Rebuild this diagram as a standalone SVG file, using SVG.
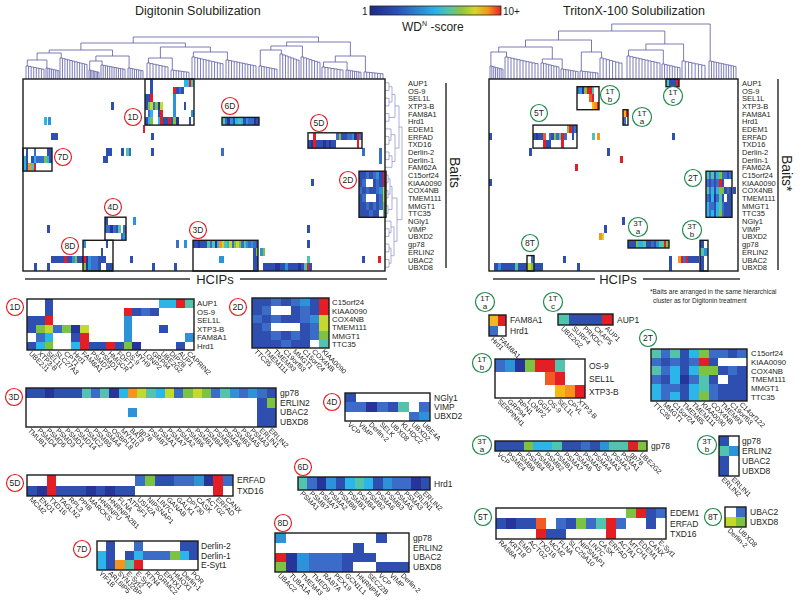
<svg xmlns="http://www.w3.org/2000/svg" xmlns:xlink="http://www.w3.org/1999/xlink" width="800" height="606" viewBox="0 0 800 606">
<style>
text{font-family:"Liberation Sans",Arial,Helvetica,sans-serif;fill:#231f20}
.ti{font-size:12.5px}
.bl{font-size:7.5px}
.rl{font-size:8.5px}
.rs{font-size:7.8px}
.cl{font-size:7px;filter:url(#nolcd)}
.cl text{fill:#222}
.ct{font-size:8.5px;text-anchor:middle}
.c2{font-size:8px;text-anchor:middle}
.b1{fill:#25359a}.b2{fill:#2f4fb0}.b3{fill:#3b6cc8}.lb{fill:#2c93d9}.cy{fill:#2cb5e8}.tl{fill:#52c3ad}.gr{fill:#7ec242}.yg{fill:#c4d92e}.gd{fill:#f5b818}.or{fill:#f7941d}.ro{fill:#f15a24}.rd{fill:#e31e24}
.bx{fill:none;stroke:#1a1a1a;stroke-width:1.4}
.cd circle{fill:#fff;stroke:#e31e24;stroke-width:1.2}
.cg circle{fill:#fff;stroke:#1e8b4c;stroke-width:1.2}
.dg{fill:none;stroke:#5b5ba6;stroke-width:0.8}
.rdg{fill:none;stroke:#8c8cc8;stroke-width:0.7}
.ax{stroke:#333;stroke-width:1.5;fill:none}
</style>
<defs>
<filter id="nolcd" x="-0.1" y="-0.1" width="1.2" height="1.2"><feOffset dx="0" dy="0"/></filter>
<linearGradient id="wd" x1="0" x2="1" y1="0" y2="0">
<stop offset="0" stop-color="#1d2a85"/><stop offset="0.2" stop-color="#2a4db5"/><stop offset="0.4" stop-color="#2b8fd6"/><stop offset="0.5" stop-color="#2ab3e6"/><stop offset="0.6" stop-color="#55c3a8"/><stop offset="0.7" stop-color="#8dc63f"/><stop offset="0.8" stop-color="#d4d62a"/><stop offset="0.9" stop-color="#f7941d"/><stop offset="1" stop-color="#e8202a"/>
</linearGradient>
<path id="st" class="dg" vector-effect="non-scaling-stroke" d="M0 10V0H1V0.4H2V0.8H3V1.2H4V1.6H5V2H6V2.4H7V10M1 0.4V10M2 0.8V10M3 1.2V10M4 1.6V10M5 2V10M6 2.4V10"/>
<path id="st12" class="dg" vector-effect="non-scaling-stroke" d="M0 10V0H1V0.3H2V0.6H3V0.9H4V1.2H5V1.5H6V1.8H7V2.1H8V2.4H9V2.7H10V3H11V10M1 0.3V10M2 0.6V10M3 0.9V10M4 1.2V10M5 1.5V10M6 1.8V10M7 2.1V10M8 2.4V10M9 2.7V10M10 3V10"/>
<g id="m1D" shape-rendering="crispEdges">
<rect x="2" y="0" width="1" height="1" class="b2"/><rect x="15" y="0" width="2" height="1" class="cy"/><rect x="17" y="0" width="1" height="1" class="rd"/><rect x="18" y="0" width="1" height="1" class="tl"/>
<rect x="2" y="1" width="1" height="1" class="b2"/><rect x="11" y="1" width="1" height="1" class="rd"/><rect x="12" y="1" width="1" height="1" class="b2"/><rect x="13" y="1" width="1" height="1" class="b3"/><rect x="14" y="1" width="1" height="1" class="b2"/>
<rect x="0" y="2" width="2" height="1" class="b2"/><rect x="2" y="2" width="1" height="1" class="rd"/><rect x="11" y="2" width="1" height="1" class="lb"/>
<rect x="0" y="3" width="1" height="1" class="b2"/><rect x="1" y="3" width="1" height="1" class="gr"/><rect x="2" y="3" width="1" height="1" class="yg"/><rect x="3" y="3" width="1" height="1" class="b3"/><rect x="4" y="3" width="1" height="1" class="gr"/><rect x="5" y="3" width="1" height="1" class="b1"/><rect x="6" y="3" width="1" height="1" class="yg"/><rect x="11" y="3" width="1" height="1" class="lb"/><rect x="15" y="3" width="1" height="1" class="b2"/>
<rect x="1" y="4" width="1" height="1" class="b3"/><rect x="2" y="4" width="1" height="1" class="cy"/><rect x="5" y="4" width="1" height="1" class="b2"/><rect x="6" y="4" width="1" height="1" class="rd"/><rect x="11" y="4" width="1" height="1" class="lb"/><rect x="18" y="4" width="1" height="1" class="lb"/>
<rect x="0" y="5" width="1" height="1" class="b2"/><rect x="1" y="5" width="1" height="1" class="cy"/><rect x="2" y="5" width="1" height="1" class="gr"/><rect x="5" y="5" width="1" height="1" class="cy"/><rect x="6" y="5" width="1" height="1" class="rd"/><rect x="7" y="5" width="2" height="1" class="b2"/><rect x="9" y="5" width="1" height="1" class="rd"/><rect x="10" y="5" width="1" height="1" class="b2"/><rect x="11" y="5" width="1" height="1" class="gr"/><rect x="12" y="5" width="1" height="1" class="b1"/><rect x="17" y="5" width="1" height="1" class="b2"/>
</g>
<g id="m2D" shape-rendering="crispEdges">
<rect x="0" y="0" width="2" height="1" class="b2"/><rect x="2" y="0" width="1" height="1" class="b3"/><rect x="3" y="0" width="1" height="1" class="b2"/><rect x="4" y="0" width="1" height="1" class="b3"/><rect x="5" y="0" width="1" height="1" class="lb"/><rect x="6" y="0" width="1" height="1" class="b2"/><rect x="7" y="0" width="1" height="1" class="rd"/>
<rect x="0" y="1" width="1" height="1" class="b2"/><rect x="1" y="1" width="1" height="1" class="b3"/><rect x="4" y="1" width="1" height="1" class="b2"/><rect x="5" y="1" width="1" height="1" class="b3"/><rect x="6" y="1" width="1" height="1" class="b2"/><rect x="7" y="1" width="1" height="1" class="rd"/>
<rect x="0" y="2" width="1" height="1" class="b3"/><rect x="1" y="2" width="1" height="1" class="b2"/><rect x="2" y="2" width="1" height="1" class="b3"/><rect x="3" y="2" width="2" height="1" class="b2"/><rect x="5" y="2" width="1" height="1" class="b3"/><rect x="6" y="2" width="1" height="1" class="lb"/><rect x="7" y="2" width="1" height="1" class="yg"/>
<rect x="0" y="3" width="1" height="1" class="b2"/><rect x="1" y="3" width="1" height="1" class="b3"/><rect x="5" y="3" width="1" height="1" class="b2"/><rect x="6" y="3" width="1" height="1" class="b3"/><rect x="7" y="3" width="1" height="1" class="yg"/>
<rect x="0" y="4" width="2" height="1" class="b2"/><rect x="2" y="4" width="1" height="1" class="b3"/><rect x="3" y="4" width="1" height="1" class="b2"/><rect x="4" y="4" width="1" height="1" class="b3"/><rect x="5" y="4" width="1" height="1" class="b2"/><rect x="6" y="4" width="1" height="1" class="b3"/><rect x="7" y="4" width="1" height="1" class="gr"/>
<rect x="0" y="5" width="3" height="1" class="b2"/><rect x="3" y="5" width="1" height="1" class="b3"/><rect x="4" y="5" width="2" height="1" class="b2"/><rect x="7" y="5" width="1" height="1" class="tl"/>
</g>
<g id="m3D" shape-rendering="crispEdges">
<rect x="0" y="0" width="2" height="1" class="b2"/><rect x="2" y="0" width="1" height="1" class="b1"/><rect x="3" y="0" width="3" height="1" class="b2"/><rect x="6" y="0" width="1" height="1" class="tl"/><rect x="7" y="0" width="1" height="1" class="b3"/><rect x="8" y="0" width="1" height="1" class="tl"/><rect x="9" y="0" width="1" height="1" class="b1"/><rect x="10" y="0" width="1" height="1" class="cy"/><rect x="11" y="0" width="1" height="1" class="or"/><rect x="12" y="0" width="1" height="1" class="yg"/><rect x="13" y="0" width="1" height="1" class="tl"/><rect x="14" y="0" width="1" height="1" class="cy"/><rect x="15" y="0" width="1" height="1" class="yg"/><rect x="16" y="0" width="1" height="1" class="b3"/><rect x="17" y="0" width="1" height="1" class="gr"/><rect x="18" y="0" width="1" height="1" class="yg"/><rect x="19" y="0" width="1" height="1" class="gr"/><rect x="20" y="0" width="1" height="1" class="b3"/><rect x="21" y="0" width="1" height="1" class="tl"/><rect x="22" y="0" width="1" height="1" class="lb"/><rect x="23" y="0" width="1" height="1" class="b3"/><rect x="24" y="0" width="1" height="1" class="lb"/><rect x="25" y="0" width="1" height="1" class="b3"/><rect x="26" y="0" width="1" height="1" class="b2"/>
<rect x="25" y="1" width="1" height="1" class="b2"/><rect x="26" y="1" width="1" height="1" class="gr"/>
<rect x="11" y="2" width="1" height="1" class="lb"/><rect x="25" y="2" width="2" height="1" class="b2"/>
<rect x="25" y="3" width="2" height="1" class="b2"/>
</g>
<g id="m4D" shape-rendering="crispEdges">
<rect x="0" y="0" width="1" height="1" class="b2"/>
<rect x="0" y="1" width="2" height="1" class="b3"/><rect x="2" y="1" width="1" height="1" class="b1"/><rect x="3" y="1" width="1" height="1" class="b3"/><rect x="4" y="1" width="1" height="1" class="b2"/><rect x="5" y="1" width="1" height="1" class="tl"/><rect x="7" y="1" width="1" height="1" class="b3"/>
<rect x="6" y="2" width="1" height="1" class="b3"/><rect x="7" y="2" width="1" height="1" class="lb"/>
</g>
<g id="m5D" shape-rendering="crispEdges">
<rect x="2" y="0" width="1" height="1" class="rd"/><rect x="11" y="0" width="1" height="1" class="b3"/><rect x="12" y="0" width="1" height="1" class="gr"/><rect x="13" y="0" width="2" height="1" class="b2"/><rect x="15" y="0" width="2" height="1" class="b3"/><rect x="17" y="0" width="1" height="1" class="lb"/><rect x="18" y="0" width="1" height="1" class="b1"/><rect x="19" y="0" width="1" height="1" class="rd"/><rect x="20" y="0" width="1" height="1" class="b3"/>
<rect x="0" y="1" width="1" height="1" class="b2"/><rect x="1" y="1" width="1" height="1" class="b1"/><rect x="2" y="1" width="1" height="1" class="rd"/><rect x="3" y="1" width="3" height="1" class="b2"/><rect x="6" y="1" width="1" height="1" class="b1"/><rect x="7" y="1" width="1" height="1" class="b2"/><rect x="8" y="1" width="1" height="1" class="b1"/><rect x="9" y="1" width="2" height="1" class="b2"/><rect x="19" y="1" width="1" height="1" class="rd"/>
</g>
<g id="m6D" shape-rendering="crispEdges">
<rect x="0" y="0" width="1" height="1" class="tl"/><rect x="1" y="0" width="1" height="1" class="b3"/><rect x="2" y="0" width="1" height="1" class="b1"/><rect x="3" y="0" width="1" height="1" class="lb"/><rect x="4" y="0" width="1" height="1" class="b2"/><rect x="5" y="0" width="1" height="1" class="cy"/><rect x="6" y="0" width="1" height="1" class="tl"/><rect x="7" y="0" width="1" height="1" class="cy"/><rect x="8" y="0" width="1" height="1" class="b2"/><rect x="9" y="0" width="1" height="1" class="lb"/><rect x="10" y="0" width="2" height="1" class="b3"/><rect x="12" y="0" width="1" height="1" class="b1"/><rect x="13" y="0" width="1" height="1" class="b2"/>
</g>
<g id="m7D" shape-rendering="crispEdges">
<rect x="1" y="0" width="1" height="1" class="b2"/><rect x="4" y="0" width="1" height="1" class="b3"/><rect x="9" y="0" width="2" height="1" class="b2"/>
<rect x="0" y="1" width="1" height="1" class="cy"/><rect x="1" y="1" width="1" height="1" class="b2"/><rect x="3" y="1" width="1" height="1" class="b2"/><rect x="4" y="1" width="1" height="1" class="cy"/><rect x="5" y="1" width="3" height="1" class="b3"/><rect x="8" y="1" width="1" height="1" class="gr"/><rect x="9" y="1" width="1" height="1" class="cy"/><rect x="10" y="1" width="1" height="1" class="b2"/>
<rect x="0" y="2" width="1" height="1" class="cy"/><rect x="1" y="2" width="1" height="1" class="b2"/><rect x="2" y="2" width="1" height="1" class="or"/><rect x="3" y="2" width="1" height="1" class="tl"/><rect x="4" y="2" width="1" height="1" class="rd"/>
</g>
<g id="m8D" shape-rendering="crispEdges">
<rect x="0" y="0" width="1" height="1" class="lb"/><rect x="9" y="0" width="1" height="1" class="b2"/>
<rect x="7" y="1" width="1" height="1" class="b2"/>
<rect x="0" y="2" width="1" height="1" class="rd"/><rect x="1" y="2" width="1" height="1" class="b1"/><rect x="2" y="2" width="1" height="1" class="lb"/><rect x="3" y="2" width="3" height="1" class="b3"/><rect x="6" y="2" width="3" height="1" class="b2"/>
<rect x="0" y="3" width="1" height="1" class="gr"/><rect x="1" y="3" width="1" height="1" class="b1"/><rect x="2" y="3" width="1" height="1" class="lb"/><rect x="3" y="3" width="3" height="1" class="b3"/><rect x="6" y="3" width="1" height="1" class="b2"/><rect x="9" y="3" width="3" height="1" class="b2"/>
</g>
<g id="m1Ta" shape-rendering="crispEdges">
<rect x="0" y="0" width="1" height="1" class="gd"/><rect x="1" y="0" width="1" height="1" class="rd"/><rect x="0" y="1" width="1" height="1" class="b3"/>
</g>
<g id="m1Tc" shape-rendering="crispEdges">
<rect x="0" y="0" width="1" height="1" class="tl"/><rect x="1" y="0" width="3" height="1" class="b2"/><rect x="4" y="0" width="1" height="1" class="rd"/>
</g>
<g id="m1Tb" shape-rendering="crispEdges">
<rect x="0" y="0" width="1" height="1" class="b3"/><rect x="1" y="0" width="1" height="1" class="lb"/><rect x="2" y="0" width="1" height="1" class="b1"/><rect x="3" y="0" width="1" height="1" class="gr"/><rect x="4" y="0" width="2" height="1" class="rd"/><rect x="6" y="0" width="1" height="1" class="tl"/>
<rect x="5" y="1" width="1" height="1" class="ro"/><rect x="6" y="1" width="1" height="1" class="rd"/>
<rect x="6" y="2" width="1" height="1" class="gd"/><rect x="7" y="2" width="1" height="1" class="or"/><rect x="8" y="2" width="1" height="1" class="rd"/>
</g>
<g id="m2T" shape-rendering="crispEdges">
<rect x="0" y="0" width="1" height="1" class="tl"/><rect x="1" y="0" width="1" height="1" class="b3"/><rect x="2" y="0" width="1" height="1" class="tl"/><rect x="3" y="0" width="1" height="1" class="b2"/><rect x="4" y="0" width="1" height="1" class="cy"/><rect x="5" y="0" width="1" height="1" class="gr"/><rect x="6" y="0" width="2" height="1" class="b3"/><rect x="8" y="0" width="1" height="1" class="b2"/><rect x="9" y="0" width="1" height="1" class="b3"/>
<rect x="0" y="1" width="1" height="1" class="b3"/><rect x="1" y="1" width="1" height="1" class="b2"/><rect x="2" y="1" width="1" height="1" class="b3"/><rect x="3" y="1" width="1" height="1" class="b2"/><rect x="4" y="1" width="1" height="1" class="b3"/><rect x="5" y="1" width="1" height="1" class="rd"/><rect x="6" y="1" width="1" height="1" class="b2"/>
<rect x="0" y="2" width="1" height="1" class="tl"/><rect x="1" y="2" width="1" height="1" class="b3"/><rect x="2" y="2" width="1" height="1" class="cy"/><rect x="3" y="2" width="1" height="1" class="b2"/><rect x="4" y="2" width="1" height="1" class="cy"/><rect x="5" y="2" width="2" height="1" class="gr"/><rect x="7" y="2" width="1" height="1" class="b2"/><rect x="8" y="2" width="1" height="1" class="b3"/><rect x="9" y="2" width="1" height="1" class="b2"/>
<rect x="0" y="3" width="1" height="1" class="b3"/><rect x="1" y="3" width="1" height="1" class="b2"/><rect x="2" y="3" width="1" height="1" class="cy"/><rect x="3" y="3" width="1" height="1" class="b1"/><rect x="4" y="3" width="1" height="1" class="b3"/><rect x="5" y="3" width="1" height="1" class="tl"/><rect x="6" y="3" width="1" height="1" class="b2"/><rect x="8" y="3" width="2" height="1" class="b2"/>
<rect x="0" y="4" width="1" height="1" class="cy"/><rect x="1" y="4" width="2" height="1" class="b3"/><rect x="3" y="4" width="1" height="1" class="b2"/><rect x="4" y="4" width="1" height="1" class="cy"/><rect x="5" y="4" width="1" height="1" class="tl"/><rect x="6" y="4" width="1" height="1" class="b3"/><rect x="7" y="4" width="3" height="1" class="b2"/>
<rect x="0" y="5" width="1" height="1" class="cy"/><rect x="1" y="5" width="1" height="1" class="b3"/><rect x="2" y="5" width="1" height="1" class="cy"/><rect x="3" y="5" width="1" height="1" class="b2"/><rect x="4" y="5" width="1" height="1" class="cy"/><rect x="5" y="5" width="1" height="1" class="gr"/><rect x="6" y="5" width="1" height="1" class="b3"/><rect x="7" y="5" width="3" height="1" class="b2"/>
</g>
<g id="m3Ta" shape-rendering="crispEdges">
<rect x="0" y="0" width="3" height="1" class="b2"/><rect x="3" y="0" width="1" height="1" class="gr"/><rect x="4" y="0" width="2" height="1" class="cy"/><rect x="6" y="0" width="1" height="1" class="tl"/><rect x="7" y="0" width="2" height="1" class="b2"/><rect x="9" y="0" width="1" height="1" class="b3"/><rect x="10" y="0" width="1" height="1" class="b2"/><rect x="11" y="0" width="1" height="1" class="lb"/><rect x="12" y="0" width="2" height="1" class="tl"/><rect x="14" y="0" width="1" height="1" class="rd"/><rect x="15" y="0" width="1" height="1" class="gr"/>
</g>
<g id="m3Tb" shape-rendering="crispEdges">
<rect x="0" y="0" width="1" height="1" class="b2"/><rect x="0" y="1" width="1" height="1" class="tl"/><rect x="1" y="1" width="1" height="1" class="lb"/><rect x="0" y="2" width="1" height="2" class="b2"/>
</g>
<g id="m5T" shape-rendering="crispEdges">
<rect x="13" y="0" width="1" height="1" class="gr"/><rect x="14" y="0" width="1" height="1" class="rd"/><rect x="15" y="0" width="1" height="1" class="b2"/><rect x="16" y="0" width="1" height="1" class="b3"/>
<rect x="0" y="1" width="1" height="1" class="b2"/><rect x="1" y="1" width="1" height="1" class="b1"/><rect x="2" y="1" width="2" height="1" class="b2"/><rect x="4" y="1" width="1" height="1" class="ro"/><rect x="6" y="1" width="1" height="1" class="b3"/><rect x="7" y="1" width="1" height="1" class="b2"/><rect x="8" y="1" width="1" height="1" class="gr"/><rect x="9" y="1" width="1" height="1" class="b3"/><rect x="10" y="1" width="1" height="1" class="tl"/><rect x="11" y="1" width="1" height="1" class="rd"/><rect x="12" y="1" width="1" height="1" class="b3"/><rect x="15" y="1" width="1" height="1" class="b2"/>
<rect x="4" y="2" width="1" height="1" class="rd"/><rect x="5" y="2" width="2" height="1" class="b2"/><rect x="11" y="2" width="1" height="1" class="rd"/>
</g>
<g id="m8T" shape-rendering="crispEdges">
<rect x="1" y="0" width="1" height="1" class="b3"/><rect x="0" y="1" width="1" height="1" class="yg"/><rect x="1" y="1" width="1" height="1" class="gr"/>
</g>
<g id="baits" class="bl">
<text y="85.8">AUP1</text><text y="93.5">OS-9</text><text y="101.2">SEL1L</text><text y="108.9">XTP3-B</text><text y="116.5">FAM8A1</text><text y="124.2">Hrd1</text><text y="131.9">EDEM1</text><text y="139.6">ERFAD</text><text y="147.3">TXD16</text><text y="154.9">Derlin-2</text><text y="162.6">Derlin-1</text><text y="170.3">FAM62A</text><text y="178">C15orf24</text><text y="185.7">KIAA0090</text><text y="193.3">COX4NB</text><text y="201">TMEM111</text><text y="208.7">MMGT1</text><text y="216.4">TTC35</text><text y="224.1">NGly1</text><text y="231.7">VIMP</text><text y="239.4">UBXD2</text><text y="247.1">gp78</text><text y="254.8">ERLIN2</text><text y="262.5">UBAC2</text><text y="270.1">UBXD8</text>
</g>
</defs>

<rect width="800" height="606" fill="#fff"/>

<g id="header">
<text class="ti" x="135" y="15">Digitonin Solubilization</text>
<text class="ti" x="563" y="15">TritonX-100 Solubilization</text>
<text x="362" y="14.5" font-size="10">1</text>
<rect x="370" y="6" width="131" height="9" fill="url(#wd)" stroke="#222" stroke-width="0.8"/>
<text x="503" y="14.5" font-size="10">10+</text>
<text x="402" y="30.5" font-size="12">WD<tspan font-size="7" dy="-5">N</tspan><tspan dy="5"> -score</tspan></text>
</g>

<g id="dendrograms">
<g id="dendro-left">
<use xlink:href="#st" transform="translate(26,66) scale(2.571,1.3)"/>
<use xlink:href="#st" transform="translate(46,68) scale(1.857,1.1)"/>
<use xlink:href="#st12" transform="translate(60,58) scale(2.455,2.1)"/>
<use xlink:href="#st" transform="translate(89,70) scale(1.429,0.9)"/>
<use xlink:href="#st12" transform="translate(101,65) scale(2.182,1.4)"/>
<use xlink:href="#st" transform="translate(128,68) scale(2.143,1.1)"/>
<use xlink:href="#st" transform="translate(147,63) scale(3,1.6)"/>
<use xlink:href="#st" transform="translate(171,70) scale(2.571,0.9)"/>
<use xlink:href="#st12" transform="translate(192,57) scale(2.818,2.2)"/>
<use xlink:href="#st12" transform="translate(226,60) scale(2.727,1.9)"/>
<use xlink:href="#st" transform="translate(259,66) scale(2.571,1.3)"/>
<use xlink:href="#st" transform="translate(280,54) scale(2.714,2.5)"/>
<use xlink:href="#st" transform="translate(301,57) scale(2.714,2.2)"/>
<use xlink:href="#st" transform="translate(322,67) scale(3,1.2)"/>
<use xlink:href="#st" transform="translate(346,70) scale(2.143,0.9)"/>
<use xlink:href="#st" transform="translate(364,72) scale(2.714,0.7)"/>
<path class="dg" d="M27.3 66V60H46.9V68M37.1 60V53H61.2V58M89.7 70V61H102.1V65M95.9 61V56H129.1V68M49.2 53V50H112.5V56M148.5 63V58H172.3V70M193.4 57V52H227.4V60M160.4 58V47H210.4V52M80.9 50V43H185.4V47M260.3 66V50H281.4V54M270.9 50V46H302.4V57M323.5 67V62H347.1V70M335.3 62V56H365.4V72M286.6 46V42H350.4V56M133.2 43V37H318.5V42"/>
</g>
<g id="dendro-right">
<use xlink:href="#st" transform="translate(490,66) scale(1.857,1.3)"/>
<use xlink:href="#st12" transform="translate(505,57) scale(3,2.2)"/>
<use xlink:href="#st" transform="translate(541,63) scale(2.571,1.6)"/>
<use xlink:href="#st" transform="translate(561,69) scale(2.429,1)"/>
<use xlink:href="#st" transform="translate(580,71) scale(2.571,0.8)"/>
<use xlink:href="#st" transform="translate(600,58) scale(3.143,2.1)"/>
<use xlink:href="#st12" transform="translate(627,56) scale(3,2.3)"/>
<use xlink:href="#st" transform="translate(662,64) scale(2.571,1.5)"/>
<use xlink:href="#st" transform="translate(682,61) scale(3.286,1.8)"/>
<use xlink:href="#st12" transform="translate(709,61) scale(2.455,1.8)"/>
<path class="dg" d="M490.9 66V52H506.5V57M542.3 63V59H562.2V69M498.7 52V47H552.3V59M581.3 71V52H601.6V58M525.5 47V40H591.5V52M628.5 56V50H663.3V64M645.9 50V44H683.6V61M558.5 40V31H664.8V44M611.7 31V24H710.2V61"/>
</g>
<g id="dendro-rows">
<path class="rdg" d="M385 82.8H389V90.5H385M385 98.2H389V105.9H385M389 86.7H392V102H389M385 113.6H389V121.2H385M392 94.4H395V117.4H389M385 136.6H389V144.3H385M385 128.9H391V140.4H389M385 152H389V159.6H385M389 155.8H392V167.3H385M391 134.7H395V161.5H392M395 105.9H399V148.1H395M385 175H388V182.7H385M385 190.4H388V198H385M385 205.7H388V213.4H385M388 178.8H390V194.2H388M390 186.5H392V209.6H388M385 228.8H389V236.4H385M385 221.1H391V232.6H389M385 244.1H389V251.8H385M385 259.5H389V267.2H385M389 248H391V263.3H389M391 226.9H394V255.7H391M392 198H397V241.3H394M399 127H402V219.7H397"/>
</g>
</g>

<g id="heatmap-digitonin">
<g shape-rendering="crispEdges">
<rect x="111" y="102" width="2.6" height="7.68" class="b2"/>
<rect x="44" y="117.4" width="2.6" height="7.68" class="cy"/><rect x="48" y="117.4" width="2.6" height="7.68" class="lb"/>
<rect x="142.5" y="125.1" width="2.6" height="7.68" class="rd"/>
<rect x="51" y="132.8" width="7" height="7.68" class="b2"/><rect x="151" y="132.8" width="2.6" height="7.68" class="b2"/>
<rect x="106" y="148.1" width="6" height="7.68" class="b2"/><rect x="121" y="148.1" width="2.6" height="7.68" class="b2"/><rect x="126" y="148.1" width="2.6" height="7.68" class="tl"/><rect x="128.6" y="148.1" width="2.6" height="7.68" class="b3"/><rect x="151" y="148.1" width="2.6" height="7.68" class="b2"/><rect x="221" y="148.1" width="2.6" height="7.68" class="b3"/>
<rect x="103" y="155.8" width="5" height="7.68" class="b2"/>
<rect x="362" y="148.1" width="2.6" height="7.68" class="b3"/><rect x="379" y="148.1" width="2.6" height="15.4" class="b3"/>
<rect x="311" y="178.8" width="2.6" height="7.68" class="b2"/>
<rect x="133" y="217.2" width="2.6" height="7.68" class="lb"/>
<rect x="47" y="224.9" width="2.6" height="7.68" class="b2"/><rect x="307" y="224.9" width="2.6" height="7.68" class="b2"/>
<rect x="176" y="240.3" width="2.6" height="7.68" class="b3"/><rect x="184" y="240.3" width="2.6" height="7.68" class="lb"/><rect x="307" y="240.3" width="2.6" height="7.68" class="b2"/>
<rect x="260" y="248" width="2.6" height="7.68" class="lb"/><rect x="262.6" y="248" width="2.6" height="7.68" class="gr"/>
<rect x="51" y="255.6" width="13" height="7.68" class="b2"/><rect x="64" y="255.6" width="2.6" height="7.68" class="rd"/><rect x="66.6" y="255.6" width="5.4" height="7.68" class="b2"/><rect x="72" y="255.6" width="2.6" height="7.68" class="lb"/><rect x="74.6" y="255.6" width="2.6" height="7.68" class="gr"/><rect x="77.2" y="255.6" width="5.8" height="7.68" class="b2"/><rect x="130" y="255.6" width="2.6" height="7.68" class="b2"/><rect x="221" y="255.6" width="2.6" height="7.68" class="lb"/><rect x="307" y="255.6" width="2.6" height="7.68" class="tl"/><rect x="362" y="255.6" width="2.6" height="7.68" class="b2"/><rect x="378" y="255.6" width="2.6" height="7.68" class="rd"/>
<rect x="34" y="263.3" width="2.6" height="7.68" class="b2"/><rect x="47" y="263.3" width="2.6" height="7.68" class="b2"/><rect x="152" y="263.3" width="2.6" height="7.68" class="b2"/><rect x="174" y="263.3" width="2.6" height="7.68" class="b2"/><rect x="263" y="263.3" width="49" height="7.68" class="b2"/><rect x="275" y="263.3" width="5" height="7.68" class="b1"/><rect x="285" y="263.3" width="2.6" height="7.68" class="lb"/><rect x="298" y="263.3" width="2.6" height="7.68" class="b1"/><rect x="304" y="263.3" width="2.6" height="7.68" class="tl"/><rect x="306.6" y="263.3" width="2.6" height="7.68" class="rd"/>
</g>
<use xlink:href="#m1D" transform="translate(145,79) scale(2.579,7.68)"/>
<use xlink:href="#m2D" transform="translate(359,171.2) scale(3.375,7.68)"/>
<use xlink:href="#m3D" transform="translate(193,240.3) scale(2.407,7.68)"/>
<use xlink:href="#m4D" transform="translate(105,217.2) scale(2.625,7.68)"/>
<use xlink:href="#m5D" transform="translate(308,132.8) scale(2.571,7.68)"/>
<use xlink:href="#m6D" transform="translate(222,117.4) scale(2.643,7.68)"/>
<use xlink:href="#m7D" transform="translate(23,148.1) scale(2.636,7.68)"/>
<use xlink:href="#m8D" transform="translate(83,240.3) scale(2.5,7.68)"/>
<rect class="bx" x="23" y="79" width="362" height="192"/>
<rect class="bx" x="145" y="79" width="49" height="46.1"/>
<rect class="bx" x="359" y="171.2" width="27" height="46.1"/>
<rect class="bx" x="193" y="240.3" width="65" height="30.7"/>
<rect class="bx" x="105" y="217.2" width="21" height="23"/>
<rect class="bx" x="308" y="132.8" width="54" height="15.4"/>
<rect class="bx" x="222" y="117.4" width="37" height="7.7"/>
<rect class="bx" x="23" y="148.1" width="29" height="23"/>
<rect class="bx" x="83" y="240.3" width="30" height="30.7"/>
<use xlink:href="#baits" transform="translate(408,0)"/>
<line class="ax" x1="446" y1="83" x2="446" y2="268"/>
<text transform="translate(450,157) rotate(90)" font-size="14">Baits</text>
<line class="ax" x1="25" y1="279" x2="190" y2="279"/>
<line class="ax" x1="240" y1="279" x2="387" y2="279"/>
<text x="215" y="284" font-size="13" text-anchor="middle">HCIPs</text>
<g class="cd"><circle cx="133" cy="117" r="8.5"/><text class="ct" x="133" y="120">1D</text></g>
<g class="cd"><circle cx="230" cy="106" r="8.5"/><text class="ct" x="230" y="109">6D</text></g>
<g class="cd"><circle cx="63" cy="157" r="8.5"/><text class="ct" x="63" y="160">7D</text></g>
<g class="cd"><circle cx="319" cy="123" r="8.5"/><text class="ct" x="319" y="126">5D</text></g>
<g class="cd"><circle cx="348" cy="180" r="8.5"/><text class="ct" x="348" y="183">2D</text></g>
<g class="cd"><circle cx="113" cy="207" r="8.5"/><text class="ct" x="113" y="210">4D</text></g>
<g class="cd"><circle cx="198" cy="230" r="8.5"/><text class="ct" x="198" y="233">3D</text></g>
<g class="cd"><circle cx="70" cy="246" r="8.5"/><text class="ct" x="70" y="249">8D</text></g>
</g>

<g id="heatmap-triton">
<g shape-rendering="crispEdges">
<rect x="489" y="132.8" width="2.6" height="7.68" class="b2"/><rect x="592" y="132.8" width="2.6" height="7.68" class="tl"/><rect x="597" y="132.8" width="2.6" height="7.68" class="or"/><rect x="672" y="132.8" width="2.6" height="7.68" class="b2"/>
<rect x="529" y="148.1" width="2.6" height="7.68" class="b2"/><rect x="607" y="148.1" width="2.6" height="7.68" class="b2"/>
<rect x="620" y="155.8" width="2.6" height="7.68" class="rd"/>
<rect x="575" y="163.5" width="2.6" height="7.68" class="rd"/>
<rect x="489" y="178.8" width="2.6" height="7.68" class="b2"/>
<rect x="733" y="186.5" width="2.6" height="7.68" class="b2"/>
<rect x="622" y="217.2" width="2.6" height="7.68" class="b2"/>
<rect x="604" y="224.9" width="2.6" height="7.68" class="b2"/>
<rect x="599" y="232.6" width="2.6" height="7.68" class="or"/><rect x="601.6" y="232.6" width="2.6" height="7.68" class="yg"/>
<rect x="563" y="255.6" width="2.6" height="7.68" class="b2"/><rect x="669" y="255.6" width="3" height="15.4" class="b2"/><rect x="678" y="255.6" width="2.6" height="7.68" class="or"/><rect x="680.6" y="255.6" width="2.6" height="7.68" class="rd"/><rect x="683.2" y="255.6" width="2.6" height="7.68" class="b3"/><rect x="685.8" y="255.6" width="2.6" height="7.68" class="rd"/><rect x="688.4" y="255.6" width="11" height="7.68" class="b2"/>
<rect x="494" y="263.3" width="33" height="7.68" class="b2"/><rect x="498" y="263.3" width="2.6" height="7.68" class="lb"/><rect x="515" y="263.3" width="2.6" height="7.68" class="tl"/><rect x="534" y="263.3" width="9" height="7.68" class="b2"/><rect x="577" y="263.3" width="2.6" height="7.68" class="b2"/>
</g>
<use xlink:href="#m1Tb" transform="translate(577,86.7) scale(2.444,7.68)"/>
<use xlink:href="#m1Tc" transform="translate(666,79) scale(2.6,7.68)"/>
<use xlink:href="#m1Ta" transform="translate(623,109.7) scale(2.5,7.68)"/>
<use xlink:href="#m5T" transform="translate(533,125.1) scale(2.588,7.68)"/>
<use xlink:href="#m2T" transform="translate(706,171.2) scale(2.6,7.68)"/>
<use xlink:href="#m3Ta" transform="translate(628,240.3) scale(2.5625,7.68)"/>
<use xlink:href="#m3Tb" transform="translate(700,240.3) scale(4,7.68)"/>
<use xlink:href="#m8T" transform="translate(527,255.6) scale(3.5,7.68)"/>
<rect class="bx" x="489" y="79" width="249" height="192"/>
<rect class="bx" x="577" y="86.7" width="22" height="23"/>
<rect class="bx" x="666" y="79" width="13" height="7.7"/>
<rect class="bx" x="623" y="109.7" width="5" height="15.4"/>
<rect class="bx" x="533" y="125.1" width="44" height="23"/>
<rect class="bx" x="706" y="171.2" width="26" height="46.1"/>
<rect class="bx" x="628" y="240.3" width="41" height="7.7"/>
<rect class="bx" x="700" y="240.3" width="8" height="30.7"/>
<rect class="bx" x="527" y="255.6" width="7" height="15.4"/>
<use xlink:href="#baits" transform="translate(742,0)"/>
<line class="ax" x1="778" y1="79" x2="778" y2="270"/>
<text transform="translate(782,155) rotate(90)" font-size="14">Baits*</text>
<line class="ax" x1="493" y1="279" x2="595" y2="279"/>
<line class="ax" x1="643" y1="279" x2="740" y2="279"/>
<text x="618" y="284" font-size="13" text-anchor="middle">HCIPs</text>
<text x="650" y="294" font-size="6.5">*Baits are arranged in the same hierarchical</text>
<text x="653" y="303" font-size="6.5">cluster as for Digitonin treatment</text>
<g class="cg"><circle cx="610" cy="95" r="9.5"/><text class="c2" x="610" y="94">1T</text><text class="c2" x="610" y="101.5">b</text></g>
<g class="cg"><circle cx="673" cy="96" r="9.5"/><text class="c2" x="673" y="95">1T</text><text class="c2" x="673" y="102.5">c</text></g>
<g class="cg"><circle cx="642" cy="117" r="9.5"/><text class="c2" x="642" y="116">1T</text><text class="c2" x="642" y="123.5">a</text></g>
<g class="cg"><circle cx="539" cy="113" r="8.5"/><text class="ct" x="539" y="116">5T</text></g>
<g class="cg"><circle cx="693" cy="178" r="8.5"/><text class="ct" x="693" y="181">2T</text></g>
<g class="cg"><circle cx="638" cy="227" r="9.5"/><text class="c2" x="638" y="226">3T</text><text class="c2" x="638" y="233.5">a</text></g>
<g class="cg"><circle cx="692" cy="230" r="9.5"/><text class="c2" x="692" y="229">3T</text><text class="c2" x="692" y="236.5">b</text></g>
<g class="cg"><circle cx="530" cy="243" r="8.5"/><text class="ct" x="530" y="246">8T</text></g>
</g>

<g id="panel-1D">
<g class="cd"><circle cx="15" cy="307" r="8.5"/><text class="ct" x="15" y="310">1D</text></g>
<use xlink:href="#m1D" transform="translate(27,299) scale(8.79,8.5)"/>
<rect class="bx" x="27" y="299" width="167" height="51"/>
<g class="rs"><text x="197" y="306">AUP1</text><text x="197" y="314.5">OS-9</text><text x="197" y="323">SEL1L</text><text x="197" y="331.5">XTP3-B</text><text x="197" y="340">FAM8A1</text><text x="197" y="348.5">Hrd1</text></g>
<g class="cl">
<text transform="translate(28.4,354) rotate(45)">UBE2J1</text><text transform="translate(37.2,354) rotate(45)">XTP3-B</text><text transform="translate(46,354) rotate(45)">SEL1L</text><text transform="translate(54.8,354) rotate(45)">SLC27A3</text><text transform="translate(63.6,354) rotate(45)">CPT1</text><text transform="translate(72.3,354) rotate(45)">Hrd1</text><text transform="translate(81.1,354) rotate(45)">FAM8A1</text><text transform="translate(89.9,354) rotate(45)">PSMD7</text><text transform="translate(98.7,354) rotate(45)">PSMD1</text><text transform="translate(107.5,354) rotate(45)">HMGCR</text><text transform="translate(116.3,354) rotate(45)">FDFT1</text><text transform="translate(125.1,354) rotate(45)">OS-9</text><text transform="translate(133.9,354) rotate(45)">MYH9</text><text transform="translate(142.7,354) rotate(45)">LONP2</text><text transform="translate(151.5,354) rotate(45)">GRP94</text><text transform="translate(160.3,354) rotate(45)">UBE2G2</text><text transform="translate(169,354) rotate(45)">DIP2B</text><text transform="translate(177.8,354) rotate(45)">AUP1</text><text transform="translate(186.6,354) rotate(45)">CAPRIN2</text>
</g>
</g>

<g id="panel-2D">
<g class="cd"><circle cx="238" cy="307" r="8.5"/><text class="ct" x="238" y="310">2D</text></g>
<use xlink:href="#m2D" transform="translate(252,298) scale(9.625,8.333)"/>
<rect class="bx" x="252" y="298" width="77" height="50"/>
<g class="rs"><text x="332" y="305.2">C15orf24</text><text x="332" y="313.5">KIAA0090</text><text x="332" y="321.8">COX4NB</text><text x="332" y="330.2">TMEM111</text><text x="332" y="338.5">MMGT1</text><text x="332" y="346.8">TTC35</text></g>
<g class="cl">
<text transform="translate(253.8,352) rotate(45)">TTC35</text><text transform="translate(263.4,352) rotate(45)">TMEM111</text><text transform="translate(273.1,352) rotate(45)">TMEM93</text><text transform="translate(282.7,352) rotate(45)">C19orf63</text><text transform="translate(292.3,352) rotate(45)">MMGT1</text><text transform="translate(301.9,352) rotate(45)">C15orf24</text><text transform="translate(311.6,352) rotate(45)">COX4NB</text><text transform="translate(321.2,352) rotate(45)">KIAA0090</text>
</g>
</g>

<g id="panel-3D">
<g class="cd"><circle cx="14" cy="397" r="8.5"/><text class="ct" x="14" y="400">3D</text></g>
<use xlink:href="#m3D" transform="translate(26,388) scale(9.259,9.75)"/>
<rect class="bx" x="26" y="388" width="250" height="39"/>
<g class="rl"><text x="280" y="396">gp78</text><text x="280" y="405.6">ERLIN2</text><text x="280" y="415.4">UBAC2</text><text x="280" y="425.1">UBXD8</text></g>
<g class="cl">
<text transform="translate(27.6,431) rotate(45)">TMUB1</text><text transform="translate(36.9,431) rotate(45)">PSMD4</text><text transform="translate(46.1,431) rotate(45)">PSMD6</text><text transform="translate(55.4,431) rotate(45)">PSMD3</text><text transform="translate(64.6,431) rotate(45)">PSMD1</text><text transform="translate(73.9,431) rotate(45)">PSMD14</text><text transform="translate(83.2,431) rotate(45)">PSMC2</text><text transform="translate(92.4,431) rotate(45)">PSMB5</text><text transform="translate(101.7,431) rotate(45)">PSMA4</text><text transform="translate(110.9,431) rotate(45)">OSBPL8</text><text transform="translate(120.2,431) rotate(45)">MYH10</text><text transform="translate(129.4,431) rotate(45)">BAT3</text><text transform="translate(138.7,431) rotate(45)">gp78</text><text transform="translate(148,431) rotate(45)">PSMB7</text><text transform="translate(157.2,431) rotate(45)">PSMA1</text><text transform="translate(166.5,431) rotate(45)">PSMA7</text><text transform="translate(175.7,431) rotate(45)">PSMA2</text><text transform="translate(185,431) rotate(45)">PSMB6</text><text transform="translate(194.3,431) rotate(45)">PSMB1</text><text transform="translate(203.5,431) rotate(45)">PSMB4</text><text transform="translate(212.8,431) rotate(45)">PSMB2</text><text transform="translate(222,431) rotate(45)">PSMA6</text><text transform="translate(231.3,431) rotate(45)">PSMB3</text><text transform="translate(240.6,431) rotate(45)">PSMA5</text><text transform="translate(249.8,431) rotate(45)">PSMA3</text><text transform="translate(259.1,431) rotate(45)">ERLIN1</text><text transform="translate(268.3,431) rotate(45)">ERLIN2</text>
</g>
</g>

<g id="panel-4D">
<g class="cd"><circle cx="332" cy="402" r="8.5"/><text class="ct" x="332" y="405">4D</text></g>
<use xlink:href="#m4D" transform="translate(345,393) scale(10.625,9.333)"/>
<rect class="bx" x="345" y="393" width="85" height="28"/>
<g class="rl"><text x="434" y="400.7">NGly1</text><text x="434" y="410">VIMP</text><text x="434" y="419.3">UBXD2</text></g>
<g class="cl">
<text transform="translate(347.3,425) rotate(45)">VCP</text><text transform="translate(357.9,425) rotate(45)">VIMP</text><text transform="translate(368.6,425) rotate(45)">Derlin-2</text><text transform="translate(379.2,425) rotate(45)">SELK</text><text transform="translate(389.8,425) rotate(45)">UBXD8</text><text transform="translate(400.4,425) rotate(45)">KLHDC2</text><text transform="translate(411.1,425) rotate(45)">UBXD2</text><text transform="translate(421.7,425) rotate(45)">UBE4A</text>
</g>
</g>

<g id="panel-5D">
<g class="cd"><circle cx="15" cy="483" r="8.5"/><text class="ct" x="15" y="486">5D</text></g>
<use xlink:href="#m5D" transform="translate(27,475) scale(9.81,10.5)"/>
<rect class="bx" x="27" y="475" width="206" height="21"/>
<g class="rl"><text x="237" y="483.3">ERFAD</text><text x="237" y="493.8">TXD16</text></g>
<g class="cl">
<text transform="translate(28.9,500) rotate(45)">MCM2</text><text transform="translate(38.7,500) rotate(45)">ENO1</text><text transform="translate(48.5,500) rotate(45)">TXD16</text><text transform="translate(58.3,500) rotate(45)">TAGLN2</text><text transform="translate(68.1,500) rotate(45)">RPL3</text><text transform="translate(77.9,500) rotate(45)">PPIB</text><text transform="translate(87.8,500) rotate(45)">MARCKS</text><text transform="translate(97.6,500) rotate(45)">HNRNPU</text><text transform="translate(107.4,500) rotate(45)">HNRNPA2B1</text><text transform="translate(117.2,500) rotate(45)">FLNA</text><text transform="translate(127,500) rotate(45)">ATP5F1</text><text transform="translate(136.8,500) rotate(45)">USH2A</text><text transform="translate(146.6,500) rotate(45)">NIPSNAP1</text><text transform="translate(156.4,500) rotate(45)">LIN7C</text><text transform="translate(166.2,500) rotate(45)">GANAB</text><text transform="translate(176.1,500) rotate(45)">GALK1</text><text transform="translate(185.9,500) rotate(45)">DPY30</text><text transform="translate(195.7,500) rotate(45)">CASK</text><text transform="translate(205.5,500) rotate(45)">ACTG2</text><text transform="translate(215.3,500) rotate(45)">ERFAD</text><text transform="translate(225.1,500) rotate(45)">CANX</text>
</g>
</g>

<g id="panel-6D">
<g class="cd"><circle cx="303" cy="467" r="8.5"/><text class="ct" x="303" y="470">6D</text></g>
<use xlink:href="#m6D" transform="translate(298,477) scale(9.43,13)"/>
<rect class="bx" x="298" y="477" width="132" height="13"/>
<text class="rl" x="434" y="486.5">Hrd1</text>
<g class="cl">
<text transform="translate(299.7,494) rotate(45)">PSMA1</text><text transform="translate(309.1,494) rotate(45)">PSMB7</text><text transform="translate(318.6,494) rotate(45)">PSMA7</text><text transform="translate(328,494) rotate(45)">PSMA2</text><text transform="translate(337.4,494) rotate(45)">PSMB6</text><text transform="translate(346.9,494) rotate(45)">PSMB1</text><text transform="translate(356.3,494) rotate(45)">PSMB4</text><text transform="translate(365.7,494) rotate(45)">PSMB2</text><text transform="translate(375.1,494) rotate(45)">PSMA6</text><text transform="translate(384.6,494) rotate(45)">PSMB3</text><text transform="translate(394,494) rotate(45)">PSMA5</text><text transform="translate(403.4,494) rotate(45)">PSMA3</text><text transform="translate(412.9,494) rotate(45)">ERLIN1</text><text transform="translate(422.3,494) rotate(45)">ERLIN2</text>
</g>
</g>

<g id="panel-7D">
<g class="cd"><circle cx="82" cy="549" r="8.5"/><text class="ct" x="82" y="552">7D</text></g>
<use xlink:href="#m7D" transform="translate(97,541) scale(9.18,9.667)"/>
<rect class="bx" x="97" y="541" width="101" height="29"/>
<g class="rl"><text x="201" y="548.8">Derlin-2</text><text x="201" y="558.5">Derlin-1</text><text x="201" y="568.2">E-Syt1</text></g>
<g class="cl">
<text transform="translate(98.6,574) rotate(45)">YIF1B</text><text transform="translate(107.8,574) rotate(45)">ARL6IP5</text><text transform="translate(117,574) rotate(45)">SYNJ2BP</text><text transform="translate(126.1,574) rotate(45)">E-Syt2</text><text transform="translate(135.3,574) rotate(45)">E-Syt1</text><text transform="translate(144.5,574) rotate(45)">RTN4</text><text transform="translate(153.7,574) rotate(45)">PGRMC2</text><text transform="translate(162.9,574) rotate(45)">EPHX1</text><text transform="translate(172,574) rotate(45)">HMOX1</text><text transform="translate(181.2,574) rotate(45)">Derlin-1</text><text transform="translate(190.4,574) rotate(45)">POR</text>
</g>
</g>

<g id="panel-8D">
<g class="cd"><circle cx="283" cy="523" r="8.5"/><text class="ct" x="283" y="526">8D</text></g>
<use xlink:href="#m8D" transform="translate(275,533) scale(11.167,9.75)"/>
<rect class="bx" x="275" y="533" width="134" height="39"/>
<g class="rl"><text x="413" y="540.9">gp78</text><text x="413" y="550.6">ERLIN2</text><text x="413" y="560.4">UBAC2</text><text x="413" y="570.1">UBXD8</text></g>
<g class="cl">
<text transform="translate(277.6,576) rotate(45)">UBAC2</text><text transform="translate(288.8,576) rotate(45)">TUBA1A</text><text transform="translate(299.9,576) rotate(45)">TMEM43</text><text transform="translate(311.1,576) rotate(45)">TMED9</text><text transform="translate(322.3,576) rotate(45)">RAB7A</text><text transform="translate(333.4,576) rotate(45)">PEX19</text><text transform="translate(344.6,576) rotate(45)">GCN1L1</text><text transform="translate(355.8,576) rotate(45)">HNRNPM</text><text transform="translate(366.9,576) rotate(45)">SEC22B</text><text transform="translate(378.1,576) rotate(45)">VCP</text><text transform="translate(389.3,576) rotate(45)">VIMP</text><text transform="translate(400.4,576) rotate(45)">Derlin-2</text>
</g>
</g>

<g id="panel-1Ta">
<g class="cg"><circle cx="485" cy="302" r="9.5"/><text class="c2" x="485" y="301">1T</text><text class="c2" x="485" y="308.5">a</text></g>
<use xlink:href="#m1Ta" transform="translate(489,315) scale(8.5,10.5)"/>
<rect class="bx" x="489" y="315" width="17" height="21"/>
<g class="rl"><text x="510" y="323.3">FAM8A1</text><text x="510" y="333.8">Hrd1</text></g>
<g class="cl"><text transform="translate(490.3,340) rotate(45)">Hrd1</text><text transform="translate(498.8,340) rotate(45)">FAM8A1</text></g>
</g>

<g id="panel-1Tc">
<g class="cg"><circle cx="553" cy="302" r="9.5"/><text class="c2" x="553" y="301">1T</text><text class="c2" x="553" y="308.5">c</text></g>
<use xlink:href="#m1Tc" transform="translate(558,314) scale(11,11)"/>
<rect class="bx" x="558" y="314" width="55" height="11"/>
<text class="rl" x="617" y="322.5">AUP1</text>
<g class="cl"><text transform="translate(560.5,329) rotate(45)">UBE2G2</text><text transform="translate(571.5,329) rotate(45)">SURF4</text><text transform="translate(582.5,329) rotate(45)">PRKDC</text><text transform="translate(593.5,329) rotate(45)">CKAP5</text><text transform="translate(604.5,329) rotate(45)">AUP1</text></g>
</g>

<g id="panel-1Tb">
<g class="cg"><circle cx="482" cy="363" r="9.5"/><text class="c2" x="482" y="362">1T</text><text class="c2" x="482" y="369.5">b</text></g>
<use xlink:href="#m1Tb" transform="translate(495,359) scale(10,13)"/>
<rect class="bx" x="495" y="359" width="90" height="39"/>
<g class="rl"><text x="589" y="368.5">OS-9</text><text x="589" y="381.5">SEL1L</text><text x="589" y="394.5">XTP3-B</text></g>
<g class="cl"><text transform="translate(497,402) rotate(45)">SERPINH1</text><text transform="translate(507,402) rotate(45)">GRP94</text><text transform="translate(517,402) rotate(45)">RPN1</text><text transform="translate(527,402) rotate(45)">LONP2</text><text transform="translate(537,402) rotate(45)">GGH</text><text transform="translate(547,402) rotate(45)">OS-9</text><text transform="translate(557,402) rotate(45)">SEL1L</text><text transform="translate(567,402) rotate(45)">CPVL</text><text transform="translate(577,402) rotate(45)">XTP3-B</text></g>
</g>

<g id="panel-2T">
<g class="cg"><circle cx="648" cy="338" r="8.5"/><text class="ct" x="648" y="341">2T</text></g>
<use xlink:href="#m2T" transform="translate(651,349) scale(9.6,8.667)"/>
<rect class="bx" x="651" y="349" width="96" height="52"/>
<g class="rs"><text x="751" y="356.3">C15orf24</text><text x="751" y="365">KIAA0090</text><text x="751" y="373.7">COX4NB</text><text x="751" y="382.3">TMEM111</text><text x="751" y="391">MMGT1</text><text x="751" y="399.7">TTC35</text></g>
<g class="cl"><text transform="translate(652.8,405) rotate(45)">TTC35</text><text transform="translate(662.4,405) rotate(45)">MMGT1</text><text transform="translate(672,405) rotate(45)">C15orf24</text><text transform="translate(681.6,405) rotate(45)">TMEM85</text><text transform="translate(691.2,405) rotate(45)">TMEM111</text><text transform="translate(700.8,405) rotate(45)">KIAA0090</text><text transform="translate(710.4,405) rotate(45)">COX4NB</text><text transform="translate(720,405) rotate(45)">TMEM93</text><text transform="translate(729.6,405) rotate(45)">C19orf63</text><text transform="translate(739.2,405) rotate(45)">C14orf122</text></g>
</g>

<g id="panel-3Ta">
<g class="cg"><circle cx="482" cy="445" r="9.5"/><text class="c2" x="482" y="444">3T</text><text class="c2" x="482" y="451.5">a</text></g>
<use xlink:href="#m3Ta" transform="translate(495,441) scale(9.5,10)"/>
<rect class="bx" x="495" y="441" width="152" height="10"/>
<text class="rl" x="651" y="449">gp78</text>
<g class="cl"><text transform="translate(496.8,455) rotate(45)">VCP</text><text transform="translate(506.3,455) rotate(45)">PSME4</text><text transform="translate(515.8,455) rotate(45)">PSMB6</text><text transform="translate(525.3,455) rotate(45)">PSMB4</text><text transform="translate(534.8,455) rotate(45)">PSMB3</text><text transform="translate(544.3,455) rotate(45)">PSMB2</text><text transform="translate(553.8,455) rotate(45)">PSMB1</text><text transform="translate(563.3,455) rotate(45)">PSMA7</text><text transform="translate(572.8,455) rotate(45)">PSMA6</text><text transform="translate(582.3,455) rotate(45)">PSMA5</text><text transform="translate(591.8,455) rotate(45)">PSMA4</text><text transform="translate(601.3,455) rotate(45)">PSMA3</text><text transform="translate(610.8,455) rotate(45)">PSMA2</text><text transform="translate(620.3,455) rotate(45)">PSMA1</text><text transform="translate(629.8,455) rotate(45)">gp78</text><text transform="translate(639.3,455) rotate(45)">UBE2G2</text></g>
</g>

<g id="panel-3Tb">
<g class="cg"><circle cx="707" cy="445" r="9.5"/><text class="c2" x="707" y="444">3T</text><text class="c2" x="707" y="451.5">b</text></g>
<use xlink:href="#m3Tb" transform="translate(719,436) scale(10,10)"/>
<rect class="bx" x="719" y="436" width="20" height="40"/>
<g class="rl"><text x="742" y="444">gp78</text><text x="742" y="454">ERLIN2</text><text x="742" y="464">UBAC2</text><text x="742" y="474">UBXD8</text></g>
<g class="cl"><text transform="translate(721,480) rotate(45)">ERLIN2</text><text transform="translate(731,480) rotate(45)">ERLIN1</text></g>
</g>

<g id="panel-5T">
<g class="cg"><circle cx="483" cy="517" r="8.5"/><text class="ct" x="483" y="520">5T</text></g>
<use xlink:href="#m5T" transform="translate(496,508) scale(10,10.333)"/>
<rect class="bx" x="496" y="508" width="170" height="31"/>
<g class="rl"><text x="670" y="516.2">EDEM1</text><text x="670" y="526.5">ERFAD</text><text x="670" y="536.8">TXD16</text></g>
<g class="cl"><text transform="translate(498,543) rotate(45)">RAB8A</text><text transform="translate(508,543) rotate(45)">KRT18</text><text transform="translate(518,543) rotate(45)">EMD</text><text transform="translate(528,543) rotate(45)">ACTG2</text><text transform="translate(538,543) rotate(45)">TXD16</text><text transform="translate(548,543) rotate(45)">MCM2</text><text transform="translate(558,543) rotate(45)">FLNA</text><text transform="translate(568,543) rotate(45)">SLC25A10</text><text transform="translate(578,543) rotate(45)">NIPSNAP1</text><text transform="translate(588,543) rotate(45)">LIN7C</text><text transform="translate(598,543) rotate(45)">CASK</text><text transform="translate(608,543) rotate(45)">ERFAD</text><text transform="translate(618,543) rotate(45)">ACTA1</text><text transform="translate(628,543) rotate(45)">MTCH1</text><text transform="translate(638,543) rotate(45)">EDEM1</text><text transform="translate(648,543) rotate(45)">CANX</text><text transform="translate(658,543) rotate(45)">E-Syt1</text></g>
</g>

<g id="panel-8T">
<g class="cg"><circle cx="713" cy="517" r="8.5"/><text class="ct" x="713" y="520">8T</text></g>
<use xlink:href="#m8T" transform="translate(725,507) scale(10.5,10)"/>
<rect class="bx" x="725" y="507" width="21" height="20"/>
<g class="rl"><text x="750" y="515">UBAC2</text><text x="750" y="525">UBXD8</text></g>
<g class="cl"><text transform="translate(727.3,531) rotate(45)">Derlin-2</text><text transform="translate(737.8,531) rotate(45)">UBXD8</text></g>
</g>
</svg>
